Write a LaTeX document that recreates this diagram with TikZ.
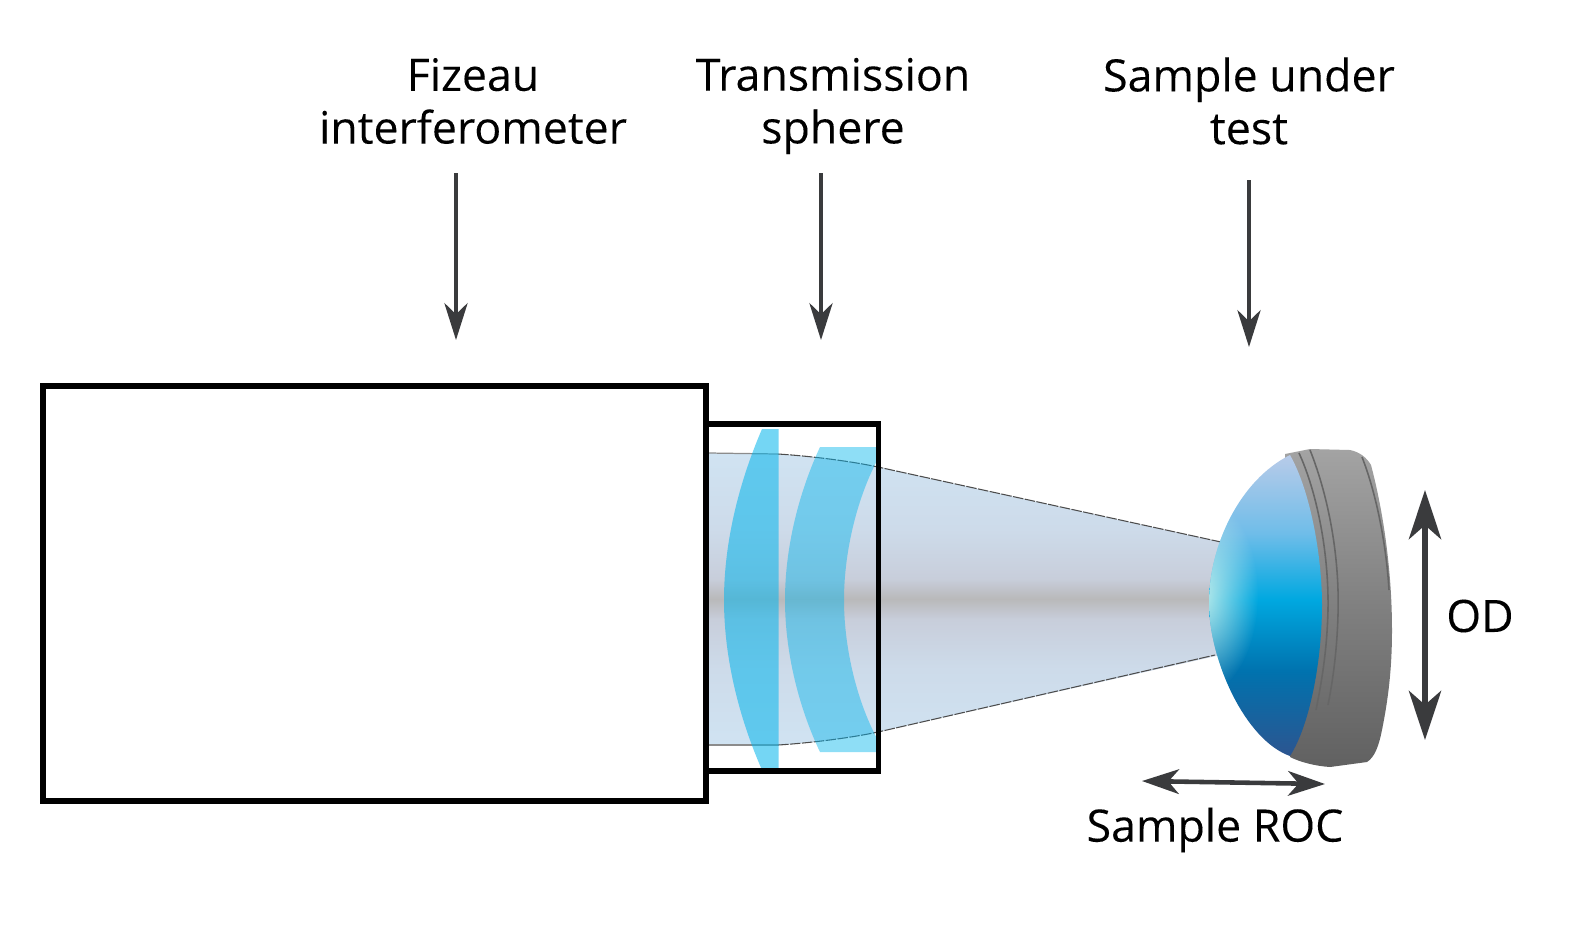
\documentclass[tikz,border=0pt]{standalone}
\usepackage{fontspec}
\setmainfont[FakeBold=0.12]{Open Sans}
\usetikzlibrary{arrows.meta}
\usetikzlibrary{fadings}
\definecolor{arrowgrey}{HTML}{3A3B3D}
\definecolor{lensblue}{RGB}{8,182,236}
\definecolor{glowtint}{HTML}{D6F5EC}
\definecolor{beamA}{HTML}{D0E3F2}
\definecolor{beamB}{HTML}{CDDBEA}
\definecolor{beamC}{HTML}{C8CEDB}
\definecolor{beamD}{HTML}{B9B9BA}
\definecolor{sampleA}{HTML}{2C5590}
\definecolor{sampleB}{HTML}{0072AE}
\definecolor{sampleC}{HTML}{00A8E0}
\definecolor{sampleD}{HTML}{6FBDE9}
\definecolor{sampleE}{HTML}{B8CBE9}
\pgfdeclareverticalshading{beamshade}{100bp}{color(0bp)=(beamA); color(25bp)=(beamA); color(38bp)=(beamB); color(46.5bp)=(beamC); color(50bp)=(beamD); color(53.5bp)=(beamC); color(62bp)=(beamB); color(75bp)=(beamA); color(100bp)=(beamA)}
\pgfdeclareverticalshading{sampleshade}{100bp}{color(0bp)=(sampleA); color(25bp)=(sampleA); color(39bp)=(sampleB); color(51bp)=(sampleC); color(62bp)=(sampleD); color(75bp)=(sampleE); color(100bp)=(sampleE)}
\tikzfading[name=glowfade, inner color=transparent!10, outer color=transparent!100]
\tikzset{
  labeltext/.style={align=center,font=\fontsize{12.7}{15}\selectfont},
  housing/.style={draw=black,line width=1.7pt,line join=miter},
  edgeline/.style={draw=black!70,line width=0.3pt,dash pattern=on 3pt off 0.4pt},
  callout/.style={draw=arrowgrey,line width=1.15pt,-{Stealth[length=10.5pt,width=6.6pt,inset=3.2pt]}},
  measure/.style={draw=arrowgrey,line width=1.3pt,{Stealth[length=10.5pt,width=7pt,inset=3pt]}-{Stealth[length=10.5pt,width=7pt,inset=3pt]}},
  odmeasure/.style={draw=arrowgrey,line width=1.5pt,{Stealth[length=14pt,width=9.2pt,inset=4pt]}-{Stealth[length=14pt,width=9.2pt,inset=4pt]}},
  groove/.style={draw=black!60,line width=0.45pt},
}
\begin{document}
\begin{tikzpicture}[x=0.01cm,y=-0.01cm]
        \useasboundingbox (0,0) rectangle (1587,929);
        % light beam
        \shade[shading=beamshade] (709,453)--(778,454) .. controls (810,456) and (850,461) .. (878,467)--(1225,543)--(1225,654)--(878,732) .. controls (850,738) and (810,743) .. (778,745)--(709,745)--cycle;
        \draw[black!45,line width=0.35pt] (709,453)--(778,454);
        \draw[black!45,line width=0.35pt] (709,745)--(778,745);
        \draw[edgeline] (778,454) .. controls (810,456) and (850,461) .. (878,467)--(1221,542);
        \draw[edgeline] (778,745) .. controls (810,743) and (850,738) .. (878,732)--(1215,655);
        % lenses
        \fill[lensblue,opacity=0.56] (762,429)--(778.5,429)--(778.5,770)--(762,770) .. controls (740,720) and (724,660) .. (724,600) .. controls (724,540) and (740,480) .. (762,429)--cycle;
        \fill[lensblue,opacity=0.46] (820,447)--(879,447)--(879,457) .. controls (858,495) and (844,550) .. (844,600) .. controls (844,650) and (858,705) .. (879,742)--(879,752)--(820,752) .. controls (800,710) and (785,655) .. (785,600) .. controls (785,545) and (800,490) .. (820,447)--cycle;
        % housings
        \draw[housing] (43,386) rectangle (706,801);
        \draw[housing] (706,424) rectangle (878.5,771);
        % sample holder
        \shade[top color=black!36,bottom color=black!62,middle color=black!50] (1285,454)--(1310,449)--(1350,450) .. controls (1360,452) and (1367,458) .. (1371,465) .. controls (1383,510) and (1392,570) .. (1392,630) .. controls (1392,670) and (1388,700) .. (1382,730) .. controls (1379,745) and (1375,757) .. (1367,762)--(1330,767) .. controls (1315,766) and (1300,762) .. (1290,757)--cycle;
        \draw[groove] (1310,450) .. controls (1326,490) and (1340,550) .. (1338,615) .. controls (1337,650) and (1333,680) .. (1328,705);
        \draw[groove] (1299,453) .. controls (1316,490) and (1329,550) .. (1328,610) .. controls (1327,650) and (1322,680) .. (1316,710);
        \draw[groove] (1362,457) .. controls (1375,490) and (1386,540) .. (1389,590);
        % sample surface
        \shade[shading=sampleshade] (1290,455) .. controls (1240,480) and (1209,545) .. (1209,603) .. controls (1209,660) and (1245,740) .. (1290,756) .. controls (1310,725) and (1322,660) .. (1322,605) .. controls (1322,555) and (1310,490) .. (1290,455)--cycle;
        \begin{scope}
            \clip (1290,455) .. controls (1240,480) and (1209,545) .. (1209,603) .. controls (1209,660) and (1245,740) .. (1290,756)--cycle;
            \fill[glowtint,path fading=glowfade] (1200,595) ellipse (58 and 100);
        \end{scope}
        % labels
        \node[labeltext] (fizeaulabel) at (473,101) {Fizeau\\interferometer};
        \node[labeltext] (spherelabel) at (833,106) {Transmission\\sphere};
        \node[labeltext] (samplelabel) at (1249,101) {Sample under\\test};
        \node[labeltext] (roclabel) at (1215,830) {Sample ROC};
        \node[labeltext] (odlabel) at (1480,616) {OD};
        % arrows
        \coordinate (fizeautail) at (456,173);
        \coordinate (fizeautip) at (456,340);
        \coordinate (spheretail) at (821,173);
        \coordinate (spheretip) at (821,340);
        \coordinate (sampletail) at (1249,180);
        \coordinate (sampletip) at (1249,347);
        \coordinate (rocleft) at (1142,781);
        \coordinate (rocright) at (1325,784);
        \coordinate (odtop) at (1425,490);
        \coordinate (odbottom) at (1425,740);
        \draw[callout] (fizeautail)--(fizeautip);
        \draw[callout] (spheretail)--(spheretip);
        \draw[callout] (sampletail)--(sampletip);
        \draw[measure] (rocleft)--(rocright);
        \draw[odmeasure] (odtop)--(odbottom);
    \end{tikzpicture}
\end{document}
